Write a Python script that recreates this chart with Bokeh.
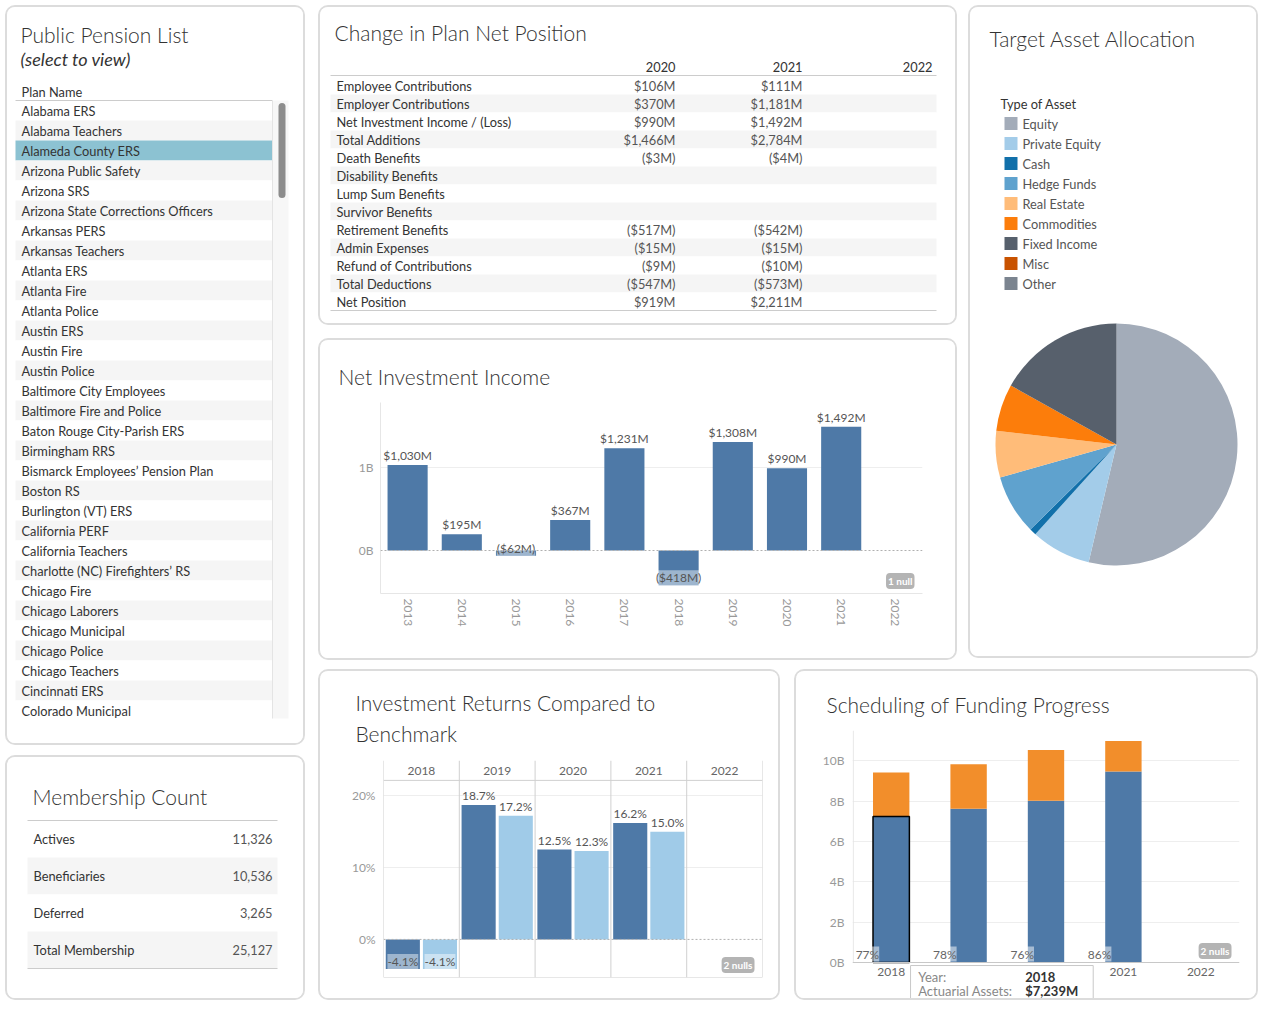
import math
import numpy as np
from bokeh.plotting import figure
from bokeh.layouts import row, column
from bokeh.models import (ColumnDataSource, Range1d, FactorRange, Span, Label, Title,
                          FixedTicker, CustomJSTickFormatter)
from bokeh.core.properties import value
from bokeh.transform import dodge
from bokeh.embed import file_html
from bokeh.resources import INLINE

# ---------------- data ----------------
plan_names = ["Alabama ERS", "Alabama Teachers", "Alameda County ERS", "Arizona Public Safety",
              "Arizona SRS", "Arizona State Corrections Officers", "Arkansas PERS", "Arkansas Teachers",
              "Atlanta ERS", "Atlanta Fire", "Atlanta Police", "Austin ERS", "Austin Fire",
              "Austin Police", "Baltimore City Employees", "Baltimore Fire and Police",
              "Baton Rouge City-Parish ERS", "Birmingham RRS", "Bismarck Employees’ Pension Plan",
              "Boston RS", "Burlington (VT) ERS", "California PERF", "California Teachers",
              "Charlotte (NC) Firefighters’ RS", "Chicago Fire", "Chicago Laborers",
              "Chicago Municipal", "Chicago Police", "Chicago Teachers", "Cincinnati ERS",
              "Colorado Municipal"]
selected_plan = "Alameda County ERS"

position_items = ["Employee Contributions", "Employer Contributions", "Net Investment Income / (Loss)",
                  "Total Additions", "Death Benefits", "Disability Benefits", "Lump Sum Benefits",
                  "Survivor Benefits", "Retirement Benefits", "Admin Expenses",
                  "Refund of Contributions", "Total Deductions", "Net Position"]
position_years = ["2020", "2021", "2022"]
position_2020 = [106, 370, 990, 1466, -3, None, None, None, -517, -15, -9, -547, 919]
position_2021 = [111, 1181, 1492, 2784, -4, None, None, None, -542, -15, -10, -573, 2211]
position_2022 = [None, None, None, None, None, None, None, None, None, None, None, None, None]

nii_years = ["2013", "2014", "2015", "2016", "2017", "2018", "2019", "2020", "2021", "2022"]
nii_values = [1030, 195, -62, 367, 1231, -418, 1308, 990, 1492, None]

asset_types = ["Equity", "Private Equity", "Cash", "Hedge Funds", "Real Estate",
               "Commodities", "Fixed Income", "Misc", "Other"]
asset_pct = [53.7, 8.0, 0.9, 8.0, 6.2, 6.3, 16.9, 0.0, 0.0]

member_types = ["Actives", "Beneficiaries", "Deferred", "Total Membership"]
member_counts = [11326, 10536, 3265, 25127]

ret_years = ["2018", "2019", "2020", "2021", "2022"]
plan_return = [-4.1, 18.7, 12.5, 16.2, None]
benchmark_return = [-4.1, 17.2, 12.3, 15.0, None]

fund_years = ["2018", "2019", "2020", "2021", "2022"]
actuarial_assets = [7239, 7630, 8030, 9480, None]
actuarial_liabilities = [9430, 9840, 10540, 10990, None]
tooltip_year = "2018"

# ---------------- style ----------------
FONT = "Lato"
TITLE_FONT = "Lato Light, Lato"
TITLE_C = "#333333"
TEXT_C = "#333333"
VAL_C = "#555555"
AXIS_C = "#999999"
BLUE = "#4e79a7"
LBLUE = "#a0cbe8"
ORANGE = "#f28e2b"
BAND = "#f5f5f5"
LINE = "#d0d0d0"
TS = "12.8px"
asset_colors = ["#a3acb9", "#a3cce9", "#1170aa", "#5fa2ce", "#ffbc79",
                "#fc7d0b", "#57606c", "#c85200", "#7b848f"]
PANEL = {"border": "2px solid #dcdcdc", "border-radius": "10px", "overflow": "hidden",
         "box-sizing": "border-box", "background-color": "#ffffff"}


def nn(v):
    return np.nan if v is None else v


def fmt_m(v):
    if v is None:
        return ""
    s = f"${abs(v):,}M"
    return f"({s})" if v < 0 else s


def base_fig(w, h, x_range, y_range, left=0, right=0, top=0, bottom=0, **kw):
    p = figure(width=w, height=h, x_range=x_range, y_range=y_range, output_backend="svg",
               toolbar_location=None, min_border=0, min_border_left=left, min_border_right=right,
               min_border_top=top, min_border_bottom=bottom, **kw)
    p.outline_line_color = None
    p.border_fill_color = "white"
    p.background_fill_color = "white"
    p.styles = PANEL
    if "frame_align" in p.properties():
        p.frame_align = False
    return p


def pixel_fig(w, h, flip=True):
    # data coordinates = pixels measured from the panel's outer border
    yr = Range1d(h + 2, 2) if flip else Range1d(-(h + 2), -2)
    p = base_fig(w, h, Range1d(2, w + 2), yr, x_axis_location=None, y_axis_location=None)
    p.grid.visible = False
    return p


def txt(p, x, y, text, size=TS, color=TEXT_C, align="left", baseline="middle",
        style="normal", font=FONT, **kw):
    p.text(x=x, y=y, text=text, text_font=value(font), text_font_size=size, text_color=color,
           text_align=align, text_baseline=baseline, text_font_style=style, **kw)


def chart_title(p, text, offset, standoff, line_height=1.2):
    p.title = Title(text=text, align="left", vertical_align="middle", offset=offset,
                    standoff=standoff, text_font=TITLE_FONT, text_font_size="21px",
                    text_font_style="normal", text_color=TITLE_C, text_line_height=line_height)


def badge(p, x, y, text):
    p.add_layout(Label(x=x, y=y, x_units="screen", y_units="screen", text=text, text_font=FONT,
                       text_font_size="10px", text_color="white", text_font_style="bold",
                       text_align="right", text_baseline="middle",
                       background_fill_color="#b4b4b4", padding=2, border_radius=4))


def style_axis(ax, line_color="#e6e6e6", label_color=AXIS_C, standoff=6):
    ax.axis_line_color = line_color
    ax.major_tick_line_color = None
    ax.minor_tick_line_color = None
    ax.major_tick_out = 0
    ax.major_tick_in = 0
    ax.major_label_text_font = FONT
    ax.major_label_text_font_size = "12px"
    ax.major_label_text_color = label_color
    ax.major_label_standoff = standoff


# ---------------- Public Pension List ----------------
p1 = pixel_fig(300, 740)
txt(p1, [15], [29], ["Public Pension List"], size="21px", color=TITLE_C, font=TITLE_FONT)
txt(p1, [15], [53], ["(select to view)"], size="18px", style="italic")
txt(p1, [16], [86], ["Plan Name"])
idx = np.arange(len(plan_names))
tops = 95 + 20 * idx
fills = ["#8cc2d2" if n == selected_plan else (BAND if i % 2 else "white")
         for i, n in enumerate(plan_names)]
p1.quad(left=10, right=267, top=tops, bottom=tops + 20, fill_color=fills, line_color=None)
txt(p1, 16, tops + 10, plan_names)
p1.segment(x0=[10], y0=[95], x1=[267], y1=[95], line_color="#cccccc")
p1.quad(left=[267], right=[283], top=[95], bottom=[713], fill_color="#f7f7f7", line_color=None)
p1.segment(x0=[267], y0=[95], x1=[267], y1=[713], line_color="#e4e4e4")
p1.segment(x0=[276.5], y0=[101], x1=[276.5], y1=[189], line_color="#8c8c8c",
           line_width=7, line_cap="round")

# ---------------- Membership Count ----------------
p5 = pixel_fig(300, 245)
txt(p5, [27], [41], ["Membership Count"], size="21px", color=TITLE_C, font=TITLE_FONT)
mtops = 65 + 37 * np.arange(len(member_types))
p5.quad(left=22, right=272, top=mtops, bottom=mtops + 37,
        fill_color=[BAND if i % 2 else "white" for i in range(len(member_types))], line_color=None)
p5.segment(x0=[22, 22], y0=[65, 213], x1=[272, 272], y1=[65, 213], line_color="#cccccc")
txt(p5, 28, mtops + 18.5, member_types)
txt(p5, 267, mtops + 18.5, [f"{v:,}" for v in member_counts], color=VAL_C, align="right")

# ---------------- Change in Plan Net Position ----------------
p2 = pixel_fig(639, 320)
txt(p2, [16], [27], ["Change in Plan Net Position"], size="21px", color=TITLE_C, font=TITLE_FONT)
col_right = [357, 484, 614]
txt(p2, col_right, [61] * 3, position_years, align="right")
ttops = 71 + 18 * np.arange(len(position_items))
p2.quad(left=12, right=618, top=ttops, bottom=ttops + 18,
        fill_color=[BAND if i % 2 else "white" for i in range(len(position_items))], line_color=None)
p2.segment(x0=[12, 12], y0=[70, 305], x1=[618, 618], y1=[70, 305], line_color="#cccccc")
txt(p2, 18, ttops + 9, position_items)
for xr, vals in zip(col_right, [position_2020, position_2021, position_2022]):
    txt(p2, xr, ttops + 9, [fmt_m(v) for v in vals], color=VAL_C, align="right")

# ---------------- Net Investment Income ----------------
p3 = base_fig(639, 322, FactorRange(factors=nii_years), Range1d(-518, 1783),
              left=60, right=37, top=62, bottom=69)
nsrc = ColumnDataSource(dict(year=nii_years, val=[nn(v) for v in nii_values]))
p3.vbar(x="year", top="val", bottom=0, width=0.74, source=nsrc, fill_color=BLUE, line_color=None)
pos = [i for i, v in enumerate(nii_values) if v is not None and v >= 0]
neg = [i for i, v in enumerate(nii_values) if v is not None and v < 0]
txt(p3, [nii_years[i] for i in pos], [nii_values[i] for i in pos],
    [fmt_m(nii_values[i]) for i in pos], size="12px", color=VAL_C, align="center",
    baseline="bottom", y_offset=-2)
txt(p3, [nii_years[i] for i in neg], [nii_values[i] for i in neg],
    [fmt_m(nii_values[i]) for i in neg], size="12px", color=VAL_C, align="center",
    baseline="bottom", background_fill_color="white", background_fill_alpha=0.45)
p3.add_layout(Span(location=0, dimension="width", line_color="#b0b0b0", line_dash="2 2", line_width=1))
style_axis(p3.xaxis[0], standoff=5)
p3.xaxis.major_label_orientation = "vertical"
style_axis(p3.yaxis[0], standoff=7)
p3.yaxis.ticker = FixedTicker(ticks=[0, 1000])
p3.yaxis.formatter = CustomJSTickFormatter(code="return (tick/1000) + 'B';")
p3.xgrid.visible = False
p3.ygrid.ticker = FixedTicker(ticks=[1000])
p3.ygrid.grid_line_color = "#eeeeee"
chart_title(p3, "Net Investment Income", -42, 25)
badge(p3, 534, 12.5, "1 null")

# ---------------- Target Asset Allocation ----------------
p4 = pixel_fig(290, 653, flip=False)   # y = -(pixels from top)
txt(p4, [21], [-33], ["Target Asset Allocation"], size="21px", color=TITLE_C, font=TITLE_FONT)
txt(p4, [32], [-98], ["Type of Asset"])
lyc = -(118 + 20 * np.arange(len(asset_types)))
p4.quad(left=36, right=49, top=lyc + 6.5, bottom=lyc - 6.5, fill_color=asset_colors, line_color=None)
txt(p4, 54, lyc, asset_types, color=VAL_C)
tot = float(sum(asset_pct))
cum = np.concatenate([[0.0], np.cumsum(asset_pct)]) / tot
keep = [i for i, v in enumerate(asset_pct) if v > 0]
wsrc = ColumnDataSource(dict(
    start=[math.pi / 2 - 2 * math.pi * cum[i] for i in keep],
    end=[math.pi / 2 - 2 * math.pi * cum[i + 1] for i in keep],
    color=[asset_colors[i] for i in keep]))
p4.wedge(x=148, y=-439, radius=121, start_angle="start", end_angle="end", direction="clock",
         fill_color="color", line_color=None, source=wsrc)

# ---------------- Investment Returns Compared to Benchmark ----------------
y_lo, y_hi = -5.3, 24.9
p6 = base_fig(462, 331, FactorRange(factors=ret_years), Range1d(y_lo, y_hi),
              left=63, right=20, top=89, bottom=25, x_axis_location=None)
p6.xgrid.visible = False
p6.ygrid.ticker = FixedTicker(ticks=[10, 20])
p6.ygrid.grid_line_color = "#eeeeee"
p6.add_layout(Span(location=0, dimension="width", line_color="#b0b0b0", line_dash="2 2", line_width=1))
for vals, off, color in [(plan_return, -0.245, BLUE), (benchmark_return, 0.245, LBLUE)]:
    src = ColumnDataSource(dict(year=ret_years, v=[nn(x) for x in vals]))
    p6.vbar(x=dodge("year", off, range=p6.x_range), top="v", width=0.45, source=src,
            fill_color=color, line_color=None)
    ip = [i for i, x in enumerate(vals) if x is not None and x >= 0]
    ineg = [i for i, x in enumerate(vals) if x is not None and x < 0]
    lp = ColumnDataSource(dict(year=[ret_years[i] for i in ip], v=[vals[i] for i in ip],
                               t=[f"{vals[i]:.1f}%" for i in ip]))
    p6.text(x=dodge("year", off, range=p6.x_range), y="v", text="t", source=lp,
            text_font=value(FONT), text_font_size="12px", text_color=VAL_C, text_align="center",
            text_baseline="bottom", y_offset=-2)
    ln = ColumnDataSource(dict(year=[ret_years[i] for i in ineg], v=[vals[i] for i in ineg],
                               t=[f"{vals[i]:.1f}%" for i in ineg]))
    p6.text(x=dodge("year", off, range=p6.x_range), y="v", text="t", source=ln,
            text_font=value(FONT), text_font_size="12px", text_color=VAL_C, text_align="center",
            text_baseline="bottom", background_fill_color="white", background_fill_alpha=0.45)
txt(p6, ret_years, [23.5] * len(ret_years), ret_years, size="12px", color="#666666", align="center")
for i in range(len(ret_years) + 1):
    p6.add_layout(Span(location=i, dimension="height", line_color=LINE, line_width=1))
p6.add_layout(Span(location=22.13, dimension="width", line_color=LINE, line_width=1))
p6.add_layout(Span(location=y_lo, dimension="width", line_color=LINE, line_width=1))
style_axis(p6.yaxis[0], line_color=None, standoff=8)
p6.yaxis.ticker = FixedTicker(ticks=[0, 10, 20])
p6.yaxis.formatter = CustomJSTickFormatter(code="return tick + '%';")
chart_title(p6, "Investment Returns Compared to\nBenchmark", -28, 26, line_height=1.26)
badge(p6, 371, 12.5, "2 nulls")

# ---------------- Scheduling of Funding Progress ----------------
p7 = base_fig(464, 331, FactorRange(factors=fund_years), Range1d(-1984, 11510),
              left=56, right=21, top=59, bottom=0)
fsrc = ColumnDataSource(dict(year=fund_years, a=[nn(v) for v in actuarial_assets],
                             l=[nn(v) for v in actuarial_liabilities]))
p7.segment(x0=[0.01], y0=[0], x1=[0.01], y1=[11510], line_color="#e6e6e6")
p7.vbar(x="year", bottom=0, top="a", width=0.47, source=fsrc, fill_color=BLUE, line_color=None)
p7.vbar(x="year", bottom="a", top="l", width=0.47, source=fsrc, fill_color=ORANGE, line_color=None)
ti = fund_years.index(tooltip_year)
p7.vbar(x=[tooltip_year], bottom=0, top=[actuarial_assets[ti]], width=0.47, fill_color=None,
        line_color="black", line_width=1.5)
fi = [i for i, v in enumerate(actuarial_assets) if v is not None]
txt(p7, [fund_years[i] for i in fi], [0] * len(fi),
    [f"{round(actuarial_assets[i] / actuarial_liabilities[i] * 100)}%" for i in fi],
    size="12px", color="#666666", align="right", baseline="bottom", x_offset=-12, y_offset=-1,
    background_fill_color="white", background_fill_alpha=0.5)
style_axis(p7.xaxis[0], line_color="#c8c8c8", label_color="#666666", standoff=5)
p7.xaxis.fixed_location = 0
style_axis(p7.yaxis[0], line_color=None, standoff=8)
p7.yaxis.ticker = FixedTicker(ticks=[0, 2000, 4000, 6000, 8000, 10000])
p7.yaxis.formatter = CustomJSTickFormatter(code="return (tick/1000) + 'B';")
p7.xgrid.visible = False
p7.ygrid.ticker = FixedTicker(ticks=[2000, 4000, 6000, 8000, 10000])
p7.ygrid.grid_line_color = "#eeeeee"
chart_title(p7, "Scheduling of Funding Progress", -26, 25)
badge(p7, 379, 51.5, "2 nulls")
# hover tooltip shown in the reference (anchored at the hovered 2018 bar)
p7.quad(left=[ti + 0.75], right=[ti + 3.11], top=[-150], bottom=[-2600], fill_color="white",
        line_color="#c8c8c8", level="overlay")
p7.text(x=[tooltip_year] * 2, y=[0, 0], text=["Year:", "Actuarial Assets:"], x_offset=27,
        y_offset=[14, 28], text_font=value(FONT), text_font_size="13px", text_color="#888888",
        text_align="left", text_baseline="middle", level="overlay")
p7.text(x=[tooltip_year] * 2, y=[0, 0], text=[tooltip_year, fmt_m(actuarial_assets[ti])],
        x_offset=134, y_offset=[14, 28], text_font=value(FONT), text_font_size="13px",
        text_color="#333333", text_font_style="bold", text_align="left", text_baseline="middle",
        level="overlay")

# ---------------- layout ----------------
left_col = column(p1, p5, spacing=10)
mid = column(p2, p3, spacing=13)
top_right = row(mid, p4, spacing=11)
bottom_row = row(p6, p7, spacing=14)
right_col = column(top_right, bottom_row, spacing=9)
root = row(left_col, right_col, spacing=13,
           styles={"position": "relative", "left": "5px", "top": "5px"})

open("out.html", "w").write(file_html(root, INLINE))
